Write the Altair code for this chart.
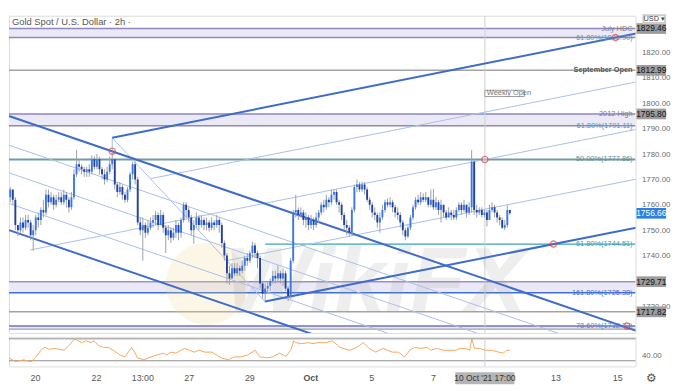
import altair as alt
import pandas as pd

W, HM, HR = 636, 322, 30
IMIN, IMAX = -0.5, 245.3
PMIN, PMAX = 1709.5, 1834.5
RMIN, RMAX = 19.6, 73.5
FONT = "Liberation Sans"

# ---------------- candles (2h bars, index = bar number) ----------------
first_open = 1763
closes = [
    1766, 1762, 1752, 1750, 1753, 1751, 1754, 1753, 1748, 1750,
    1755, 1754, 1758, 1757, 1764, 1761, 1763, 1760, 1762, 1763,
    1761, 1764, 1762, 1759, 1763, 1772, 1776, 1775, 1774, 1773,
    1774, 1773, 1778, 1775, 1778, 1774, 1772, 1770, 1773, 1776,
    1778, 1768, 1765, 1767, 1764, 1762, 1766, 1772, 1776, 1770,
    1753, 1750, 1752, 1749, 1751, 1753, 1754, 1756, 1752, 1756,
    1751, 1748, 1750, 1747, 1749, 1752, 1749, 1754, 1760, 1758,
    1755, 1750, 1752, 1755, 1752, 1754, 1752, 1753, 1751, 1753,
    1752, 1754, 1752, 1745, 1740, 1733, 1731, 1735, 1733, 1735,
    1734, 1736, 1739, 1738, 1741, 1744, 1741, 1739, 1729, 1725,
    1727, 1728, 1730, 1732, 1731, 1733, 1731, 1733, 1727, 1724,
    1738, 1757, 1758, 1756, 1757, 1754, 1755, 1752, 1754, 1752,
    1755, 1757, 1760, 1759, 1762, 1761, 1764, 1765, 1761, 1760,
    1756, 1752, 1751, 1749, 1758, 1767, 1768, 1766, 1768, 1766,
    1762, 1760, 1757, 1756, 1753, 1755, 1758, 1761, 1760, 1761,
    1759, 1757, 1756, 1753, 1750, 1747.5, 1751, 1755, 1759, 1762,
    1761, 1763, 1762, 1763, 1760, 1762, 1759, 1761, 1758, 1760,
    1757, 1755, 1757, 1756, 1755, 1758, 1760, 1758, 1760, 1757,
    1759, 1777, 1758, 1757, 1758, 1756, 1757, 1754, 1758, 1759,
    1757, 1755, 1754, 1751, 1752, 1758, 1756.66,
]
highs = [
    1767, 1766, 1763, 1752, 1755, 1755, 1756, 1756, 1754, 1752,
    1756, 1757, 1759, 1762, 1766, 1766, 1765, 1764, 1764, 1765,
    1765, 1766, 1765, 1763, 1765, 1774, 1781.6, 1778, 1776, 1775,
    1775, 1776, 1779.5, 1779, 1780, 1779, 1775, 1774, 1775, 1779,
    1781, 1778, 1769, 1769, 1768, 1765, 1767, 1773, 1777, 1777,
    1771, 1755, 1755, 1753, 1754, 1755, 1756, 1757.5, 1757, 1758,
    1757, 1752, 1752, 1751, 1751, 1754, 1753, 1755, 1761, 1761,
    1759, 1756, 1754, 1757, 1756, 1756, 1755, 1755, 1754, 1755,
    1754, 1756, 1755, 1753, 1746, 1741, 1736, 1737, 1737, 1737,
    1736, 1738, 1740, 1741, 1742, 1745.5, 1745, 1742, 1740, 1730,
    1729, 1730, 1731, 1734, 1734, 1736, 1734, 1735, 1734, 1728,
    1739, 1758, 1764, 1759, 1759, 1758, 1757, 1756, 1756, 1755,
    1757, 1758, 1761, 1762, 1764, 1763, 1766, 1766, 1766, 1762,
    1761, 1757, 1754, 1752, 1759, 1768, 1770, 1769, 1769, 1769,
    1767, 1763, 1761, 1759, 1757, 1757, 1760, 1762, 1762.5, 1763,
    1762, 1760, 1759, 1757, 1754, 1751, 1752, 1756, 1760, 1763,
    1764, 1765, 1764.5, 1765, 1763, 1766, 1766.3, 1763, 1762, 1762,
    1760, 1758, 1759, 1758, 1758, 1759, 1761, 1761, 1762, 1760,
    1761, 1781.6, 1778, 1760, 1759, 1759, 1758, 1758, 1760, 1761,
    1760, 1758, 1756, 1755, 1754, 1759.8, 1758,
]
lows = [
    1761, 1760, 1750, 1747.7, 1749, 1749, 1750, 1751, 1746, 1742,
    1748, 1751, 1752, 1755, 1756, 1759, 1760, 1758, 1759, 1761,
    1760, 1760, 1759, 1757, 1758, 1762, 1771, 1773, 1772, 1771,
    1771, 1771, 1772, 1774, 1774, 1772, 1770, 1768, 1769, 1772,
    1774, 1766, 1763, 1764, 1762, 1760.8, 1761, 1765, 1770, 1768,
    1752, 1748, 1738, 1747, 1748, 1750, 1751, 1752, 1750, 1752,
    1749, 1741, 1746, 1745, 1746, 1747, 1746, 1747, 1753, 1755,
    1753, 1748, 1744.6, 1751, 1750, 1751, 1750, 1750, 1749.5, 1750,
    1750, 1751, 1749, 1743, 1738, 1729, 1728.5, 1731, 1732, 1732,
    1732, 1733, 1734, 1736, 1737, 1739, 1739, 1735, 1727, 1723,
    1721.5, 1725, 1726, 1729, 1729, 1730, 1729, 1728, 1726, 1722,
    1723, 1737, 1755, 1754, 1755, 1752, 1751, 1750, 1750.5, 1750,
    1751, 1753, 1756, 1757, 1758, 1759, 1760, 1762, 1760, 1757,
    1754, 1750, 1748, 1747.5, 1748, 1757, 1765, 1765, 1765, 1764,
    1761, 1758, 1755, 1754, 1751, 1749, 1754, 1757, 1759, 1759,
    1757, 1755, 1754, 1751, 1748, 1746, 1747, 1750, 1754, 1758,
    1760, 1760, 1761, 1761, 1759, 1759, 1758, 1758, 1756, 1753,
    1755, 1754, 1755, 1754, 1754, 1754, 1757, 1756, 1757, 1755,
    1756, 1757, 1756, 1755, 1756, 1755, 1755, 1751.5, 1754, 1757,
    1755, 1753, 1752, 1750.5, 1750, 1751, 1756,
]

# ---------------- RSI pane ----------------
rsi_i = [-0.5, 2.0, 5.2, 8.2, 10.1, 12.0, 13.5, 15.4, 17.3, 19.2, 21.1, 23.0, 25.3, 27.9,
         29.8, 31.7, 32.8, 34.7, 36.6, 38.5, 40.4, 43.1, 45.0, 47.6, 48.8, 49.9, 52.5,
         55.2, 57.5, 60.1, 61.3, 63.1, 65.0, 68.4, 70.3, 72.2, 74.1, 76.4, 79.1, 82.8,
         85.5, 87.8, 90.4, 93.1, 96.1, 98.0, 100.6, 102.9, 105.6, 108.2, 110.1, 111.2,
         112.0, 114.3, 116.9, 118.8, 120.7, 123.8, 126.4, 129.4, 133.2, 135.9, 138.5,
         140.8, 143.4, 146.1, 148.0, 149.9, 152.2, 154.8, 156.7, 158.6, 161.2, 163.5,
         165.0, 167.3, 170.0, 172.6, 174.9, 176.4, 178.7, 180.2, 181.1, 182.1, 184.0,
         186.2, 188.9, 191.6, 193.5, 194.6, 196.0]
rsi_v = [35.2, 28.3, 31.7, 28.3, 37.0, 49.1, 54.3, 50.9, 52.6, 50.9, 49.1, 57.8, 70.0, 63.0,
         66.5, 63.0, 66.5, 57.8, 54.3, 54.3, 49.1, 40.4, 37.0, 54.3, 45.7, 35.2, 31.7,
         37.0, 40.4, 43.9, 40.4, 45.7, 43.9, 52.6, 49.1, 45.7, 49.1, 45.7, 45.7, 35.2,
         31.7, 37.0, 37.0, 40.4, 49.1, 37.0, 35.2, 37.0, 43.9, 38.0, 50.0, 66.5,
         63.0, 61.3, 63.0, 61.3, 63.0, 63.0, 66.5, 54.3, 49.1, 54.3, 63.0,
         52.6, 45.7, 52.6, 49.1, 45.7, 45.7, 37.0, 49.1, 54.3, 52.6, 54.3,
         49.1, 52.6, 49.1, 49.1, 49.1, 52.6, 52.6, 49.1, 70.0, 52.6, 52.6,
         49.1, 49.1, 45.7, 43.9, 49.1, 49.1]

# ---------------- horizontal levels and zones ----------------
level_price = [1829.46, 1825.90, 1812.99, 1795.80, 1791.11, 1777.86, 1744.51,
               1729.71, 1725.38, 1717.82, 1712.22, 1711.00]
level_color = ["#8f86c2", "#8f86c2", "#a3a3a3", "#8f86c2", "#8f86c2", "#6f9aa6",
               "#3aa3b8", "#9a93c6", "#3e6fd8", "#a3a3a3", "#6f70c8", "#a3a3a3"]
level_width = [1.5, 1.5, 1.5, 1.5, 1.5, 2, 1.5, 1.5, 1.5, 1.5, 1.5, 1.2]
level_start = [IMIN] * 6 + [100] + [IMIN] * 5

zone_lo = [1825.90, 1791.11, 1725.38, 1711.00]
zone_hi = [1829.46, 1795.80, 1729.71, 1712.22]

lab_text = ["July HDC", "61.80%(1825.90)", "September Open", "2012 High",
            "61.80%(1791.11)", "50.00%(1777.86)", "61.80%(1744.51)",
            "161.80%(1725.38)", "78.60%(1712.22)"]
lab_price = [1829.46, 1825.90, 1812.99, 1795.80, 1791.11, 1777.86, 1744.51, 1725.38, 1712.22]
lab_dy = [-5, 4, 4, -5, 4, 4, -3, -3, -3]
lab_color = ["#7d7d7d", "#4d9bb5", "#555555", "#7d7d7d", "#4d9bb5", "#5f8f9c",
             "#3aa3b8", "#3e6fd8", "#4d8fc0"]
lab_bold = [False, False, True, False, False, False, False, False, False]

# ---------------- trend lines (bar index, price) ----------------
seg_i0 = [-0.5, -0.5, -0.5, -0.5, -0.5, 40, 54.98, 7.84, 84.9, 99.9, 40, 40]
seg_p0 = [1795.0, 1783.5, 1772.6, 1760.5, 1750.0, 1786.4, 1770.3, 1742.2, 1738.0, 1721.9, 1786.4, 1786.4]
seg_i1 = [246, 246, 246, 246, 246, 246, 246, 246, 246, 246, 99.9, 40]
seg_p1 = [1710.2, 1698.7, 1687.8, 1675.7, 1665.2, 1827.6, 1808.5, 1789.8, 1770.2, 1751.1, 1721.9, 1781.1]
seg_kind = ["thick", "thin", "thin", "thin", "thick", "thick", "thin", "thin", "thin",
            "thick", "thin", "thin"]

circ_i = [40, 186.2, 237.4, 213.1, 241.9]
circ_p = [1781.1, 1777.86, 1825.9, 1744.51, 1712.22]

box_price = [1829.46, 1812.99, 1795.80, 1756.66, 1729.71, 1717.82]
box_fill = ["#9c9c9c", "#9c9c9c", "#9c9c9c", "#2a7fe3", "#9c9c9c", "#9c9c9c"]
box_tcol = ["#111111", "#111111", "#111111", "#ffffff", "#111111", "#111111"]

tick_vals = [9.7, 33.6, 51.8, 70.0, 93.8, 117.7, 141.6, 165.8, 213.9, 238.1]
tick_labels = ["20", "22", "13:00", "27", "29", "Oct", "5", "7", "13", "15"]
cross_i = 186.2
price_ticks = [1720, 1740, 1750, 1760, 1770, 1780, 1790, 1800, 1810, 1820]

# ---------------- build tables ----------------
n = min(len(closes), len(highs), len(lows))
opens = [first_open] + closes[:n - 1]
rows = []
for k in range(n):
    o, c = opens[k], closes[k]
    rows.append(dict(i=k, o=o, c=c, h=max(highs[k], o, c), l=min(lows[k], o, c), up=bool(c >= o)))
candles = pd.DataFrame(rows)

levels = pd.DataFrame(dict(p=level_price, col=level_color, w=level_width,
                           x0=level_start, x1=[IMAX] * len(level_price)))
zones = pd.DataFrame(dict(lo=zone_lo, hi=zone_hi, x0=[IMIN] * 4, x1=[IMAX] * 4))
labels = pd.DataFrame(dict(t=lab_text, p=lab_price, dy=lab_dy, col=lab_color, b=lab_bold))
segs = pd.DataFrame(dict(i0=seg_i0, p0=seg_p0, i1=seg_i1, p1=seg_p1, kind=seg_kind))
circs = pd.DataFrame(dict(i=circ_i, p=circ_p))
boxes = pd.DataFrame(dict(p=box_price, fill=box_fill, tc=box_tcol,
                          t=[f"{v:.2f}" for v in box_price]))
rsi = pd.DataFrame(dict(i=rsi_i, v=rsi_v))
wk_df = pd.DataFrame(dict(i=[cross_i], p=[1803.9], t=["Weekly Open"]))

xs = alt.Scale(domain=[IMIN, IMAX], nice=False, zero=False)
ys = alt.Scale(domain=[PMIN, PMAX], nice=False, zero=False)
rs = alt.Scale(domain=[RMIN, RMAX], nice=False, zero=False)

YAX = alt.Axis(orient="right", values=price_ticks, format=".2f", ticks=False, domain=False,
               grid=False, labelFontSize=8, labelColor="#6b6b6b", labelPadding=6,
               labelFont=FONT, title=None)


def X(f):
    return alt.X(f, scale=xs, axis=None, title=None)


def Y(f):
    return alt.Y(f, scale=ys, axis=YAX, title=None)


zone_l = alt.Chart(zones).mark_rect(color="#ece9f7", clip=True).encode(
    x=X("x0:Q"), x2="x1:Q", y=Y("lo:Q"), y2="hi:Q")
level_l = alt.Chart(levels).mark_rule(clip=True).encode(
    x=X("x0:Q"), x2="x1:Q", y=Y("p:Q"),
    color=alt.Color("col:N", scale=None),
    strokeWidth=alt.StrokeWidth("w:Q", scale=None))
cross_l = alt.Chart(wk_df).mark_rule(color="#cfcfcf", strokeWidth=1).encode(x=X("i:Q"))
thin_l = alt.Chart(segs).transform_filter("datum.kind == 'thin'").mark_rule(
    color="#a9bfe8", strokeWidth=1, clip=True).encode(
    x=X("i0:Q"), y=Y("p0:Q"), x2="i1:Q", y2="p1:Q")
thick_l = alt.Chart(segs).transform_filter("datum.kind == 'thick'").mark_rule(
    color="#3f6cc8", strokeWidth=2, clip=True).encode(
    x=X("i0:Q"), y=Y("p0:Q"), x2="i1:Q", y2="p1:Q")

wm_text = alt.Chart(wk_df).mark_text(
    text="WikiFX", font=FONT, fontSize=92, fontWeight="bold", fontStyle="italic",
    color="#9a9a9a", opacity=0.16, align="center", baseline="middle").encode(
    x=alt.value(372), y=alt.value(272))
wm_logo = alt.Chart(wk_df).mark_point(
    shape="circle", filled=True, color="#f0d58f", opacity=0.22, size=7000).encode(
    x=alt.value(201), y=alt.value(272))

wick_l = alt.Chart(candles).mark_rule(color="#9aa0aa", strokeWidth=1, clip=True).encode(
    x=X("i:Q"), y=Y("l:Q"), y2="h:Q")
body_l = alt.Chart(candles).mark_rule(strokeWidth=1.9, strokeCap="butt", clip=True).encode(
    x=X("i:Q"), y=Y("o:Q"), y2="c:Q",
    color=alt.condition("datum.up", alt.value("#3a78e8"), alt.value("#22409e")))

circ_l = alt.Chart(circs).mark_point(shape="circle", filled=False, color="#e0474c",
                                     strokeWidth=1.3, size=40).encode(x=X("i:Q"), y=Y("p:Q"))

lab_norm = alt.Chart(labels).transform_filter("!datum.b").mark_text(
    align="right", baseline="middle", font=FONT, fontSize=7.5).encode(
    x=alt.value(W - 3), y=Y("p:Q"), yOffset=alt.YOffset("dy:Q", scale=None),
    text="t:N", color=alt.Color("col:N", scale=None))
lab_bold_l = alt.Chart(labels).transform_filter("datum.b").mark_text(
    align="right", baseline="middle", font=FONT, fontSize=7.5, fontWeight="bold").encode(
    x=alt.value(W - 3), y=Y("p:Q"), yOffset=alt.YOffset("dy:Q", scale=None),
    text="t:N", color=alt.Color("col:N", scale=None))

wk_box = alt.Chart(wk_df).mark_point(
    shape="M-1,-0.16L1,-0.16L1,0.16L-1,0.16Z", filled=True, fill="white", stroke="#9a9a9a",
    strokeWidth=1, size=1600, opacity=1, xOffset=20).encode(
    x=X("i:Q"), y=Y("p:Q"))
wk_txt = alt.Chart(wk_df).mark_text(align="left", baseline="middle", font=FONT, fontSize=7.5,
                                    color="#777777", dx=2).encode(
    x=X("i:Q"), y=Y("p:Q"), text="t:N")

box_l = alt.Chart(boxes).mark_point(
    shape="M-1,-0.36L1,-0.36L1,0.36L-1,0.36Z", filled=True, size=900, opacity=1).encode(
    x=alt.value(W + 16), y=Y("p:Q"), color=alt.Color("fill:N", scale=None))
boxt_l = alt.Chart(boxes).mark_text(align="center", baseline="middle", font=FONT,
                                    fontSize=8.5).encode(
    x=alt.value(W + 16), y=Y("p:Q"), text="t:N", color=alt.Color("tc:N", scale=None))

title_l = alt.Chart(wk_df).mark_text(
    text="Gold Spot / U.S. Dollar · 2h ·", align="left", baseline="middle", font=FONT,
    fontSize=9.5, color="#555555").encode(x=alt.value(3), y=alt.value(6))
usd_box = alt.Chart(wk_df).mark_point(
    shape="M-1,-0.36L1,-0.36L1,0.36L-1,0.36Z", filled=True, fill="white", stroke="#cccccc",
    size=484, opacity=1).encode(x=alt.value(W + 19), y=alt.value(3.5))
usd_l = alt.Chart(wk_df).mark_text(text="USD ▾", align="center", baseline="middle",
                                   font=FONT, fontSize=7.5, color="#444444").encode(
    x=alt.value(W + 19), y=alt.value(3.5))

main = alt.layer(
    zone_l, level_l, cross_l, wm_logo, wm_text, thin_l, thick_l, wick_l, body_l, circ_l,
    lab_norm, lab_bold_l, wk_box, wk_txt, box_l, boxt_l, title_l, usd_box, usd_l
).properties(width=W, height=HM)

# ---------------- RSI panel ----------------
expr = "".join(
    f"datum.value < {(tick_vals[k] + tick_vals[k + 1]) / 2:.2f} ? '{tick_labels[k]}' : "
    for k in range(len(tick_vals) - 1)) + f"'{tick_labels[-1]}'"
XAX = alt.Axis(values=tick_vals, labelExpr=expr, ticks=False, domain=False, grid=False,
               labelFontSize=9, labelColor="#555555", labelPadding=7, labelFont=FONT,
               labelOverlap=False, labelFlush=False, title=None,
               labelFontWeight={"condition": {"test": "datum.value > 110 && datum.value < 125",
                                              "value": "bold"}, "value": "normal"})
RAX = alt.Axis(orient="right", values=[40], format=".2f", ticks=False, domain=False, grid=False,
               labelFontSize=8, labelColor="#6b6b6b", labelPadding=6, labelFont=FONT, title=None)

rsi_line = alt.Chart(rsi).mark_line(color="#f4a85c", strokeWidth=1, clip=True).encode(
    x=alt.X("i:Q", scale=xs, axis=XAX, title=None), y=alt.Y("v:Q", scale=rs, axis=RAX, title=None))
rsi_lv = alt.Chart(pd.DataFrame(dict(v=[70, 30]))).mark_rule(color="#8d8d8d", strokeWidth=1).encode(
    y=alt.Y("v:Q", scale=rs, axis=RAX, title=None))
rsi_cross = alt.Chart(wk_df).mark_rule(color="#cfcfcf", strokeWidth=1).encode(
    x=alt.X("i:Q", scale=xs, axis=XAX, title=None))
tl_df = pd.DataFrame(dict(i=[cross_i], t=["10 Oct '21   17:00"]))
tl_box = alt.Chart(tl_df).mark_point(
    shape="M-1,-0.2L1,-0.2L1,0.2L-1,0.2Z", filled=True, color="#b5b5b5", size=3600,
    opacity=1).encode(x=alt.X("i:Q", scale=xs, axis=XAX, title=None), y=alt.value(HR + 12))
tl_txt = alt.Chart(tl_df).mark_text(align="center", baseline="middle", font=FONT, fontSize=8.5,
                                    color="#333333").encode(
    x=alt.X("i:Q", scale=xs, axis=XAX, title=None), y=alt.value(HR + 12), text="t:N")
gear = alt.Chart(tl_df).mark_text(text="⚙", font="DejaVu Sans", fontSize=12,
                                  color="#555555", align="center", baseline="middle").encode(
    x=alt.value(W + 16), y=alt.value(HR + 12))

rsi_chart = alt.layer(rsi_lv, rsi_cross, rsi_line, tl_box, tl_txt, gear).properties(
    width=W, height=HR)

chart = alt.vconcat(main, rsi_chart, spacing=2).properties(padding=0).configure_view(
    strokeWidth=0).configure(background="white")

chart.save("out.html", embed_options={"renderer": "svg", "actions": False})
